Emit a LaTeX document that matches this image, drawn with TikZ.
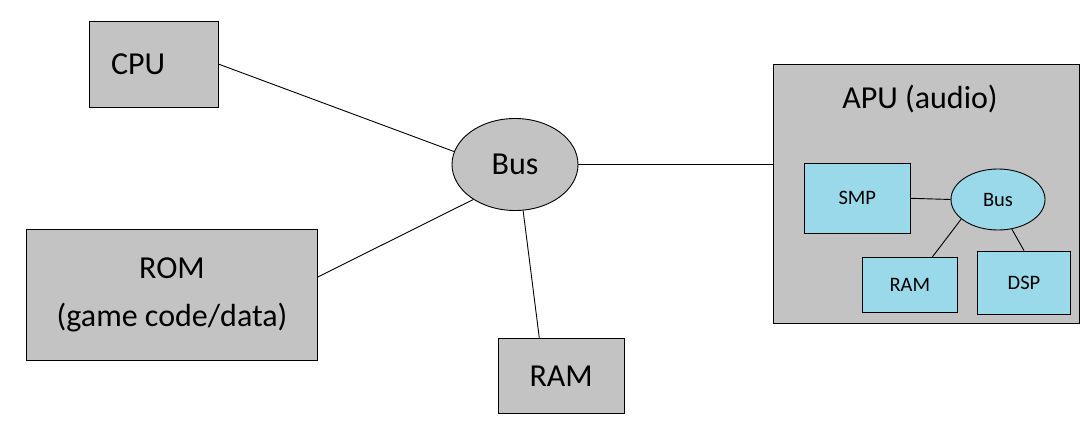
\documentclass[tikz,border=0pt]{standalone}
\usepackage{fontspec}
\setmainfont{Carlito}
\usetikzlibrary{shapes.geometric}
\definecolor{boxgray}{RGB}{195,195,195}
\definecolor{boxblue}{RGB}{153,217,234}
\begin{document}
\begin{tikzpicture}[x=1pt,y=-1pt,line width=0.9pt,
	unit/.style={draw,fill=boxgray,inner sep=0pt,font=\fontsize{32}{48}\selectfont},
	sub/.style={draw,fill=boxblue,inner sep=0pt,font=\fontsize{20.5}{24}\selectfont},
	busnode/.style={draw,ellipse,inner sep=0pt}]
			\fill[white] (0,0) rectangle (1092,422);
			\useasboundingbox (0,0) rectangle (1092,422);
			\node[unit,text width=85.5pt,inner xsep=22pt,minimum height=85.5pt,align=left] (cpu) at (153.75,64.25) {CPU};
			\node[unit,minimum width=291.2pt,minimum height=131pt,align=center] (rom) at (172,294.8) {ROM\\(game code/data)};
			\node[busnode,fill=boxgray,minimum width=126pt,minimum height=92pt,font=\fontsize{32}{38}\selectfont] (bus) at (515,164.5) {Bus};
			\node[unit,minimum width=125.7pt,minimum height=75pt] (ram) at (561.2,375.8) {RAM};
			\node[unit,minimum width=306pt,minimum height=259pt] (apu) at (926.3,193.8) {};
			\node[anchor=base,font=\fontsize{32}{38}\selectfont] (apulabel) at (920,108.3) {APU (audio)};
			\node[sub,minimum width=106pt,minimum height=70pt] (smp) at (857.3,198.3) {SMP};
			\node[busnode,fill=boxblue,minimum width=94pt,minimum height=61pt,font=\fontsize{20.5}{24}\selectfont] (abus) at (998,199.5) {Bus};
			\node[sub,minimum width=95pt,minimum height=55pt] (aram) at (909.8,284.8) {RAM};
			\node[sub,minimum width=93.4pt,minimum height=63.3pt] (dsp) at (1024,282.7) {DSP};
			\draw (cpu.east) -- (bus.168);
			\draw (rom.7.5) -- (bus.220);
			\draw (bus.280) -- (ram.120);
			\draw (bus.east) -- (bus.east -| apu.west);
			\draw (smp.east) -- (abus.west);
			\draw (abus.208) -- (aram.51);
			\draw (abus.295) -- (dsp.north);
\end{tikzpicture}
\end{document}
